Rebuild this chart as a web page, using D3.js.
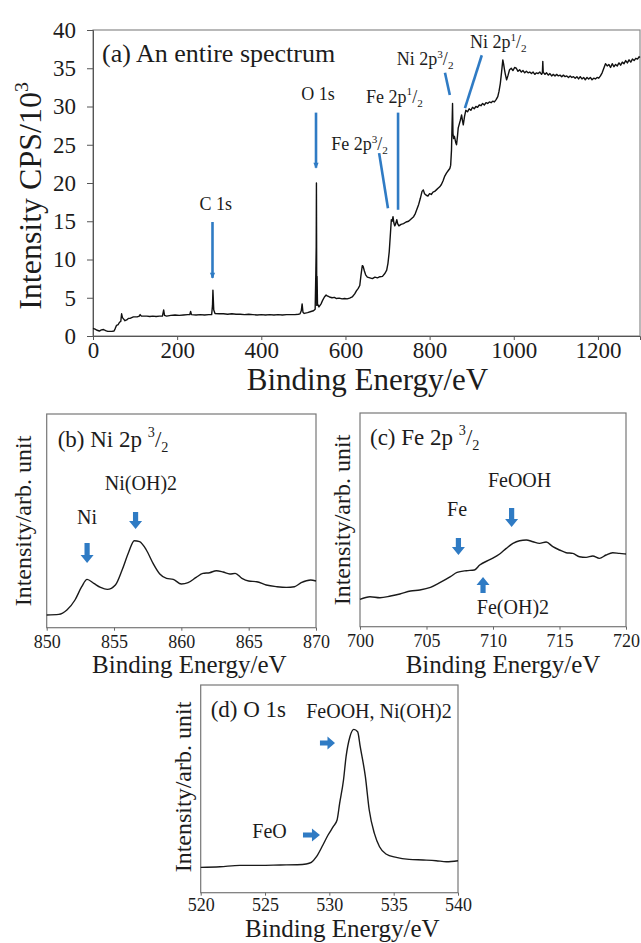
<!DOCTYPE html>
<html><head><meta charset="utf-8">
<script src="https://cdn.jsdelivr.net/npm/d3@7"></script>
<style>
body{margin:0;background:#fff}
svg{display:block}
svg text{font-family:"Liberation Serif","DejaVu Serif","Noto Serif",serif !important;fill:#1c1c1c}
</style>
</head><body>
<svg id="chart" width="641" height="943"></svg>
<script>
// ---------- DATA ----------
// (a) survey spectrum: [binding energy eV, intensity CPS/10^3]
const surveyData = [[0,1.0],[5,0.9],[10,0.75],[15,0.65],[20,0.8],[25,0.85],[30,0.7],[35,0.6],[40,0.6],[45,0.6],[50,0.65],[53,1.0],[56,1.4],[60,1.5],[63,1.8],[66,1.9],[68,2.9],[70,2.4],[73,2.2],[76,2.0],[80,2.1],[84,2.3],[88,2.3],[92,2.4],[96,2.5],[100,2.5],[105,2.5],[110,2.6],[112,2.8],[115,2.6],[120,2.6],[128,2.6],[135,2.55],[142,2.6],[150,2.55],[158,2.6],[165,2.6],[168,3.4],[170,2.7],[175,2.6],[185,2.7],[195,2.75],[205,2.7],[215,2.75],[225,2.8],[230,2.8],[232,3.2],[234,2.8],[245,2.75],[255,2.8],[265,2.75],[275,2.8],[282,2.8],[284,4.0],[285,6.0],[287,3.4],[290,2.95],[300,2.9],[310,2.9],[320,2.85],[330,2.9],[340,2.85],[350,2.85],[360,2.8],[370,2.85],[380,2.8],[390,2.75],[400,2.8],[410,2.75],[420,2.8],[430,2.75],[440,2.8],[450,2.75],[460,2.8],[470,2.8],[480,2.8],[488,2.85],[492,2.9],[495,3.3],[497,4.2],[499,3.1],[502,2.95],[510,3.05],[518,3.2],[524,3.3],[528,3.5],[529.5,8.0],[530.5,11.7],[531,20.0],[531.8,4.0],[532.5,7.8],[533.5,4.2],[537,3.8],[542,4.2],[546,4.7],[550,5.1],[554,5.35],[558,5.2],[562,5.1],[568,5.0],[574,5.05],[578,4.9],[585,4.95],[592,4.85],[598,4.9],[604,4.85],[610,4.95],[616,5.1],[622,5.5],[626,5.9],[630,6.2],[634,6.6],[637,8.0],[640,9.2],[642,9.1],[645,8.5],[648,8.0],[652,7.7],[658,7.6],[664,7.5],[670,7.7],[676,7.6],[682,7.75],[688,7.8],[694,8.2],[698,8.6],[701,9.5],[704,11.0],[707,13.5],[709,15.2],[711,15.0],[713,15.6],[715,14.8],[717,14.4],[719,14.6],[722,15.2],[724,14.7],[727,14.4],[732,14.6],[738,14.7],[744,14.9],[750,15.0],[756,15.3],[762,15.6],[766,16.0],[770,16.6],[774,17.2],[778,18.0],[782,18.9],[785,19.1],[788,18.6],[792,18.4],[796,18.3],[800,18.6],[804,18.5],[808,18.8],[812,18.9],[816,19.1],[820,19.3],[824,19.5],[828,19.8],[832,20.3],[836,20.9],[840,21.3],[844,21.6],[848,21.9],[850,22.3],[852,24.3],[853.5,28.0],[854.5,30.4],[855.5,26.5],[857,25.8],[859,26.1],[862,25.3],[864,25.0],[866,26.0],[868,27.2],[870,27.6],[873,28.2],[876,28.9],[878,28.2],[880,27.6],[883,28.7],[886,29.5],[890,29.3],[894,29.7],[898,29.5],[902,29.9],[906,29.7],[910,30.0],[914,29.9],[918,30.2],[922,30.1],[926,30.4],[930,30.2],[934,30.5],[938,30.4],[942,30.6],[946,30.5],[950,30.7],[954,30.6],[958,30.9],[962,31.3],[965,32.0],[968,33.0],[971,34.5],[974,36.1],[976,35.5],[978,34.8],[980,34.2],[983,33.5],[986,34.0],[990,34.8],[994,35.0],[998,34.7],[1002,35.1],[1006,35.0],[1010,34.6],[1014,34.8],[1018,34.5],[1022,34.7],[1026,34.4],[1030,34.6],[1034,34.4],[1038,34.5],[1042,34.3],[1046,34.5],[1050,34.2],[1054,34.4],[1058,34.3],[1062,34.5],[1066,34.2],[1068,34.4],[1069,35.9],[1070,34.5],[1074,34.2],[1078,34.4],[1082,34.1],[1086,34.3],[1090,34.0],[1094,34.2],[1098,34.0],[1102,34.2],[1106,34.0],[1110,34.1],[1114,33.9],[1118,34.1],[1122,33.9],[1126,34.0],[1130,33.8],[1134,34.0],[1138,33.8],[1142,33.9],[1146,33.7],[1150,33.9],[1154,33.6],[1158,33.9],[1162,33.6],[1166,33.8],[1170,33.5],[1174,33.8],[1178,33.6],[1182,33.8],[1186,33.5],[1190,33.7],[1194,33.6],[1198,33.8],[1202,33.7],[1206,34.0],[1210,34.4],[1214,35.0],[1218,35.6],[1222,35.3],[1226,35.5],[1230,35.1],[1234,35.6],[1238,35.2],[1242,35.5],[1246,35.3],[1250,35.7],[1254,35.4],[1258,35.8],[1262,35.6],[1266,36.0],[1270,35.7],[1274,36.1],[1278,35.8],[1282,36.2],[1286,36.0],[1290,36.3],[1294,36.2],[1298,36.5],[1300,36.4]];
const surveyXTicks = [0,200,400,600,800,1000,1200];
const surveyYTicks = [0,5,10,15,20,25,30,35,40];

// (b) Ni 2p3/2 high-resolution (arb. unit)
const niData = [[850,12.7],[850.9,13.3],[851.5,17.7],[852.1,27.7],[852.6,41],[853.0,48.3],[853.5,44.3],[854.0,40.3],[854.5,38.3],[855.1,42.7],[855.6,57.7],[856.1,76],[856.5,87],[856.9,86],[857.4,77.7],[857.9,64.3],[858.4,53.7],[858.9,49.3],[859.4,48.3],[860.0,43.7],[860.5,45],[861.1,50.3],[861.6,54.3],[862.1,55],[862.6,57],[863.1,55.7],[863.6,53.7],[864.0,54.3],[864.5,49.3],[865.0,46.7],[865.6,46],[866.3,42.7],[867.1,41],[867.8,40.3],[868.4,41],[868.9,45],[869.6,47.7],[870,46.7]];
const niTicks = [850,855,860,865,870];

// (c) Fe 2p3/2 high-resolution (arb. unit)
const feData = [[700,27.3],[700.75,30],[701.5,29],[702.3,30.7],[703,32.7],[703.8,35.7],[704.5,36.7],[705.3,39.3],[706.0,44],[706.8,50],[707.3,54.3],[708.0,56],[708.6,56.7],[709.0,61.7],[709.8,67.3],[710.5,72.7],[711.0,78.3],[711.5,83.3],[712.0,86],[712.5,86.7],[713.0,85],[713.5,83.3],[714.0,84.7],[714.5,80],[715.0,76.7],[715.5,74],[716.0,73.3],[716.5,70],[717.0,69.3],[717.5,70.7],[718.0,68.3],[718.5,71.7],[719.0,74],[719.5,73.3],[720,72.7]];
const feTicks = [700,705,710,715,720];

// (d) O 1s high-resolution (arb. unit)
const oData = [[520,25.3],[521.5,26],[523.05,27.3],[524.6,27.3],[526.2,27.7],[527.5,28],[528.2,28.7],[528.6,30.3],[529.0,36],[529.5,47.7],[529.9,57.7],[530.3,66],[530.6,72.7],[530.8,89.3],[531.1,112.7],[531.3,136],[531.6,156],[531.9,163.3],[532.2,161],[532.4,146],[532.8,116],[533.1,82.7],[533.5,59.3],[533.9,46],[534.4,38.7],[535.2,35.3],[536.2,33.3],[537.3,32.7],[538.3,32],[539.1,31],[540,32]];
const oTicks = [520,525,530,535,540];

// ---------- LAYOUT ----------
const FONT = '"Liberation Serif","DejaVu Serif","Noto Serif",serif';
const svg = d3.select("#chart");
const blue = "#2f7bc4";

function richText(g, x, y, parts, size, anchor) {
  const t = g.append("text").attr("x", x).attr("y", y)
    .style("font-family", FONT)
    .attr("font-size", size).attr("text-anchor", anchor || "start");
  let off = 0;
  parts.forEach(p => {
    let target = 0, fs = size;
    if (p.s === "sup") { target = -0.42 * size; fs = 0.62 * size; }
    if (p.s === "sub") { target = 0.22 * size; fs = 0.62 * size; }
    t.append("tspan").attr("dy", target - off).attr("font-size", fs).text(p.t);
    off = target;
  });
  return t;
}

function blockArrow(g, x1, y1, x2, y2) {
  const dx = x2 - x1, dy = y2 - y1, L = Math.hypot(dx, dy);
  const ux = dx / L, uy = dy / L, px = -uy, py = ux;
  const sw = 2.6, hw = 6.5, hl = Math.min(8, L * 0.5);
  const bx = x2 - ux * hl, by = y2 - uy * hl;
  const pts = [
    [x1 + px * sw, y1 + py * sw], [bx + px * sw, by + py * sw], [bx + px * hw, by + py * hw],
    [x2, y2], [bx - px * hw, by - py * hw], [bx - px * sw, by - py * sw], [x1 - px * sw, y1 - py * sw]
  ];
  g.append("polygon").attr("points", pts.map(p => p.join(",")).join(" ")).attr("fill", blue);
}

// ---------- PANEL (a) ----------
{
  const L = 93, R = 640, T = 30, B = 336;
  const x = d3.scaleLinear().domain([0, 1300]).range([L, R]);
  const y = d3.scaleLinear().domain([0, 40]).range([B, T]);
  const g = svg.append("g");
  g.append("rect").attr("x", L).attr("y", T).attr("width", R - L).attr("height", B - T)
    .attr("fill", "none").attr("stroke", "#8a8a8a").attr("stroke-width", 1.2);
  const xa = g.append("g").attr("transform", `translate(0,${B})`)
    .call(d3.axisBottom(x).tickValues(surveyXTicks).tickSize(4).tickPadding(2).tickFormat(d3.format("d")));
  const ya = g.append("g").attr("transform", `translate(${L},0)`)
    .call(d3.axisLeft(y).tickValues(surveyYTicks).tickSize(6).tickPadding(11));
  [xa, ya].forEach(a => {
    a.attr("font-family", null);
    a.selectAll("text").attr("font-size", 23).style("font-family", FONT).attr("fill", "#222");
    a.selectAll("line,path").attr("stroke", "#555");
  });
  g.append("path").datum(surveyData)
    .attr("d", d3.line().x(d => x(d[0])).y(d => y(d[1])))
    .attr("fill", "none").attr("stroke", "#111").attr("stroke-width", 1.4).attr("stroke-linejoin", "round");

  // title
  g.append("text").attr("x", L + 9).attr("y", 62).attr("font-size", 26).style("font-family", FONT)
    .text("(a) An entire spectrum");

  // peak labels and pointer lines
  const peakLines = [
    {x1: 284, y1: 14.9, x2: 284, y2: 7.6, head: true},
    {x1: 530, y1: 29.2, x2: 530, y2: 22.0, head: true},
    {x1: 680, y1: 23.9, x2: 701, y2: 16.7},
    {x1: 725, y1: 29.2, x2: 725, y2: 16.5},
    {x1: 836.5, y1: 34.4, x2: 848, y2: 31.5},
    {x1: 924, y1: 36.7, x2: 884, y2: 29.8}
  ];
  peakLines.forEach(p => {
    g.append("line").attr("x1", x(p.x1)).attr("y1", y(p.y1)).attr("x2", x(p.x2)).attr("y2", y(p.y2))
      .attr("stroke", blue).attr("stroke-width", 2.6);
    if (p.head) {
      const tx = x(p.x2), ty = y(p.y2);
      g.append("polygon").attr("points", `${tx-2.6},${ty-5} ${tx+2.6},${ty-5} ${tx},${ty+1}`).attr("fill", blue);
    }
  });
  const peakLabels = [
    {e: 292, v: 16.5, parts: [{t: "C 1s"}], anchor: "middle"},
    {e: 535, v: 30.85, parts: [{t: "O 1s"}], anchor: "middle"},
    {e: 566, v: 24.3, parts: [{t: "Fe 2p"}, {t: "3", s: "sup"}, {t: "/"}, {t: "2", s: "sub"}]},
    {e: 649, v: 30.5, parts: [{t: "Fe 2p"}, {t: "1", s: "sup"}, {t: "/"}, {t: "2", s: "sub"}]},
    {e: 722, v: 35.4, parts: [{t: "Ni 2p"}, {t: "3", s: "sup"}, {t: "/"}, {t: "2", s: "sub"}]},
    {e: 896, v: 37.6, parts: [{t: "Ni 2p"}, {t: "1", s: "sup"}, {t: "/"}, {t: "2", s: "sub"}]}
  ];
  peakLabels.forEach(p => richText(g, x(p.e), y(p.v), p.parts, 18, p.anchor));

  g.append("text").attr("x", (L + R) / 2 + 1).attr("y", 390).attr("text-anchor", "middle")
    .style("font-family", FONT).attr("font-size", 31).text("Binding Energy/eV");
  const yl = g.append("g").attr("transform", `translate(41,196) rotate(-90)`);
  richText(yl, 0, 0, [{t: "Intensity CPS/10"}, {t: "3", s: "sup"}], 32, "middle");
}

// ---------- small panels ----------
function smallPanel(cfg) {
  const {L, R, T, B, domain, ymax, data, ticks} = cfg;
  const x = d3.scaleLinear().domain(domain).range([L, R]);
  const y = d3.scaleLinear().domain([0, ymax]).range([B, T]);
  const g = svg.append("g");
  g.append("rect").attr("x", L).attr("y", T).attr("width", R - L).attr("height", B - T)
    .attr("fill", "none").attr("stroke", "#777").attr("stroke-width", 1.2);
  const xa = g.append("g").attr("transform", `translate(0,${B})`)
    .call(d3.axisBottom(x).tickValues(ticks).tickSize(3).tickPadding(cfg.pad).tickFormat(d3.format("d")));
  xa.attr("font-family", null);
  xa.select(".domain").remove();
  xa.selectAll("line").attr("stroke", "#666");
  xa.selectAll("text").attr("font-size", 18).style("font-family", FONT).attr("fill", "#222");
  g.append("path").datum(data)
    .attr("d", d3.line().x(d => x(d[0])).y(d => y(d[1])).curve(d3.curveMonotoneX))
    .attr("fill", "none").attr("stroke", "#1a1a1a").attr("stroke-width", 1.4);
  g.append("text").attr("x", (L + R) / 2 + cfg.xlShift).attr("y", cfg.xlY).attr("text-anchor", "middle")
    .style("font-family", FONT).attr("font-size", 25).text("Binding Energy/eV");
  g.append("text").attr("transform", `translate(${cfg.ylX},${cfg.ylY}) rotate(-90)`)
    .style("font-family", FONT).attr("text-anchor", "middle").attr("font-size", 24).text("Intensity/arb. unit");
  richText(g, L + cfg.titleDx, cfg.titleY, cfg.title, 23, "start");
  cfg.labels.forEach(l => g.append("text").attr("x", x(l.e)).attr("y", y(l.v))
    .style("font-family", FONT).attr("text-anchor", "middle").attr("font-size", 20).text(l.t));
  cfg.arrows.forEach(a => blockArrow(g, x(a.e1), y(a.v1), x(a.e2), y(a.v2)));
}

// (b)
smallPanel({
  L: 46.7, R: 316, T: 414, B: 627.7, domain: [850, 870], ymax: 213.7, data: niData, ticks: niTicks,
  pad: 5, xlY: 673, xlShift: 8, ylX: 31, ylY: 521, titleDx: 11, titleY: 447,
  title: [{t: "(b) Ni 2p "}, {t: "3", s: "sup"}, {t: "/"}, {t: "2", s: "sub"}],
  labels: [{t: "Ni(OH)2", e: 857.0, v: 137.7}, {t: "Ni", e: 853.0, v: 103.7}],
  arrows: [{e1: 856.6, v1: 115.7, e2: 856.6, v2: 98.7}, {e1: 853.0, v1: 84.7, e2: 853.0, v2: 64.7}]
});
// (c)
smallPanel({
  L: 360, R: 626, T: 413, B: 626.7, domain: [700, 720], ymax: 213.7, data: feData, ticks: feTicks,
  pad: 5, xlY: 673, xlShift: 10, ylX: 350, ylY: 520, titleDx: 10, titleY: 445,
  title: [{t: "(c) Fe 2p "}, {t: "3", s: "sup"}, {t: "/"}, {t: "2", s: "sub"}],
  labels: [{t: "FeOOH", e: 712.0, v: 139.7}, {t: "Fe", e: 707.3, v: 110.7}, {t: "Fe(OH)2", e: 711.5, v: 12.7}],
  arrows: [{e1: 711.4, v1: 118.7, e2: 711.4, v2: 99.7}, {e1: 707.4, v1: 88.7, e2: 707.4, v2: 71.7},
           {e1: 709.25, v1: 33.7, e2: 709.25, v2: 49.7}]
});
// (d)
smallPanel({
  L: 200.7, R: 458, T: 685, B: 892.7, domain: [520, 540], ymax: 207.7, data: oData, ticks: oTicks,
  pad: 3, xlY: 937, xlShift: 13, ylX: 191, ylY: 787, titleDx: 10, titleY: 717,
  title: [{t: "(d) O 1s"}],
  labels: [{t: "FeOOH, Ni(OH)2", e: 533.86, v: 174.7}, {t: "FeO", e: 525.35, v: 54.7}],
  arrows: [{e1: 529.27, v1: 149.7, e2: 530.44, v2: 149.7}, {e1: 527.95, v1: 57.7, e2: 529.27, v2: 57.7}]
});
</script>
</body></html>
